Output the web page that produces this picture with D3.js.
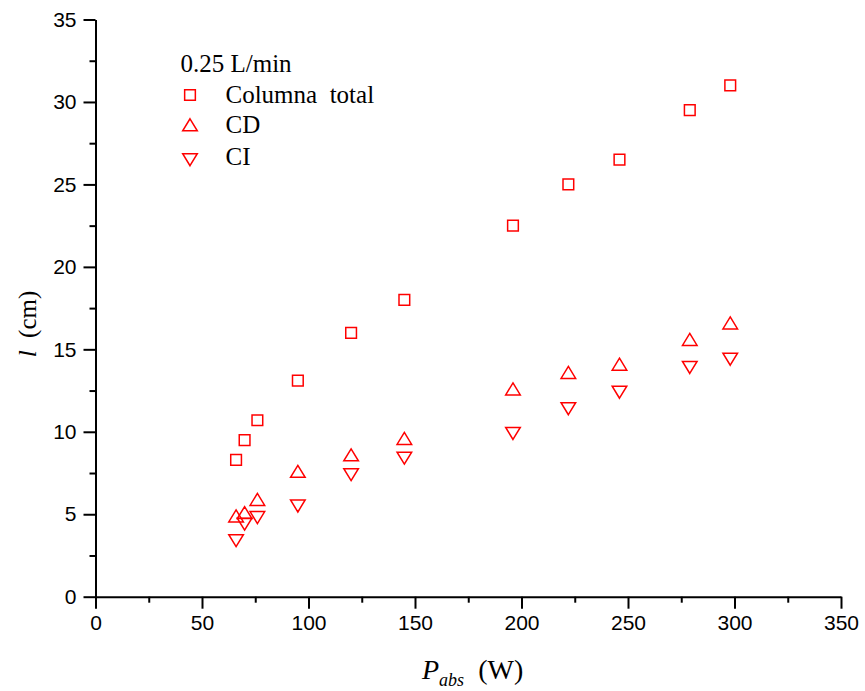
<!DOCTYPE html>
<html>
<head>
<meta charset="utf-8">
<script src="https://cdn.jsdelivr.net/npm/d3@7"></script>
<style>
  html, body { margin: 0; padding: 0; background: #fff; }
  svg { display: block; }
</style>
</head>
<body>
<svg id="chart" width="865" height="691"></svg>
<script>
// Absorbed power (W) for each run
const power = [66, 70, 76, 95, 120, 145, 196, 222, 246, 279, 298];
// Length l (cm) of each zone
const columnaTotal = [8.3, 9.5, 10.7, 13.1, 16.0, 18.0, 22.5, 25.0, 26.5, 29.5, 31.0];
const cd = [4.9, 5.1, 5.9, 7.6, 8.6, 9.6, 12.6, 13.6, 14.1, 15.6, 16.6];
const ci = [3.4, 4.4, 4.8, 5.5, 7.4, 8.4, 9.9, 11.4, 12.4, 13.9, 14.4];

const xTicks = [0, 50, 100, 150, 200, 250, 300, 350];
const yTicks = [0, 5, 10, 15, 20, 25, 30, 35];
const legendTitle = "0.25 L/min";
const seriesNames = ["Columna\u00a0 total", "CD", "CI"];

const svg = d3.select("#chart");
const plotLeft = 95.5, plotRight = 841, plotTop = 19.5, plotBottom = 596.7;
const RED = "#ff0000";

const x = d3.scaleLinear().domain([0, 350]).range([plotLeft, plotRight]);
const y = d3.scaleLinear().domain([0, 35]).range([plotBottom, plotTop]);

const tickFont = "'Liberation Sans', Arial, sans-serif";
const serif = "'Liberation Serif', 'Times New Roman', serif";

// Minor ticks (half-way between labelled ticks)
const xMinor = d3.range(25, 350, 50);
const yMinor = d3.range(2.5, 35, 5);

svg.append("g")
  .attr("transform", `translate(0,${plotBottom})`)
  .call(d3.axisBottom(x).tickValues(xMinor).tickSize(6).tickFormat(""))
  .call(g => g.select(".domain").remove())
  .call(g => g.selectAll("line").attr("stroke", "#000").attr("stroke-width", 2));

svg.append("g")
  .attr("transform", `translate(${plotLeft},0)`)
  .call(d3.axisLeft(y).tickValues(yMinor).tickSize(6).tickFormat(""))
  .call(g => g.select(".domain").remove())
  .call(g => g.selectAll("line").attr("stroke", "#000").attr("stroke-width", 2));

// Major axes
const xAxis = svg.append("g")
  .attr("transform", `translate(0,${plotBottom})`)
  .call(d3.axisBottom(x).tickValues(xTicks).tickSize(12).tickSizeOuter(0).tickPadding(6));
xAxis.select(".domain").attr("stroke", "#000").attr("stroke-width", 2);
xAxis.selectAll(".tick line").attr("stroke", "#000").attr("stroke-width", 2);
xAxis.selectAll(".tick text")
  .attr("font-family", tickFont).attr("font-size", 21).attr("fill", "#000");

const yAxis = svg.append("g")
  .attr("transform", `translate(${plotLeft},0)`)
  .call(d3.axisLeft(y).tickValues(yTicks).tickSize(12).tickSizeOuter(0).tickPadding(7));
yAxis.select(".domain").attr("stroke", "#000").attr("stroke-width", 2);
yAxis.selectAll(".tick line").attr("stroke", "#000").attr("stroke-width", 2);
yAxis.selectAll(".tick text")
  .attr("font-family", tickFont).attr("font-size", 21).attr("fill", "#000");

// Marker shapes
const sq = 10.7, tw = 14.6, th = 12;
const squarePath = `M${-sq/2},${-sq/2}h${sq}v${sq}h${-sq}Z`;
const upPath = `M0,${-th/2}L${tw/2},${th/2}L${-tw/2},${th/2}Z`;
const downPath = `M0,${th/2}L${tw/2},${-th/2}L${-tw/2},${-th/2}Z`;

const series = [
  { values: columnaTotal, path: squarePath },
  { values: cd, path: upPath },
  { values: ci, path: downPath }
];

series.forEach(s => {
  svg.append("g").selectAll("path")
    .data(power.map((p, i) => [p, s.values[i]]))
    .join("path")
    .attr("d", s.path)
    .attr("transform", d => `translate(${x(d[0])},${y(d[1])})`)
    .attr("fill", "none")
    .attr("stroke", RED)
    .attr("stroke-width", 1.5);
});

// Legend
const legend = svg.append("g");
legend.append("text")
  .attr("x", 180.5).attr("y", 71.5)
  .attr("font-family", serif).attr("font-size", 25).attr("fill", "#000")
  .text(legendTitle);

const legendMarkY = [95, 124.8, 159.7];
const legendTextY = [103.3, 132.8, 165];
series.forEach((s, i) => {
  legend.append("path")
    .attr("d", s.path)
    .attr("transform", `translate(190,${legendMarkY[i]})`)
    .attr("fill", "none").attr("stroke", RED).attr("stroke-width", 1.5);
  legend.append("text")
    .attr("x", 225.5).attr("y", legendTextY[i])
    .attr("font-family", serif).attr("font-size", 25).attr("fill", "#000")
    .text(seriesNames[i]);
});

// Axis titles
const xTitle = svg.append("text")
  .attr("x", 422).attr("y", 679)
  .attr("font-family", serif).attr("font-size", 28).attr("fill", "#000");
xTitle.append("tspan").attr("font-style", "italic").text("P");
xTitle.append("tspan").attr("font-style", "italic").attr("font-size", 18)
  .attr("dy", 7).text("abs");
xTitle.append("tspan").attr("dy", -7).text("\u00a0 (W)");

const yTitle = svg.append("text")
  .attr("transform", "translate(36,324) rotate(-90)")
  .attr("text-anchor", "middle")
  .attr("font-family", serif).attr("font-size", 25).attr("fill", "#000");
yTitle.append("tspan").attr("font-style", "italic").text("l");
yTitle.append("tspan").text("\u00a0 (cm)");
</script>
</body>
</html>
